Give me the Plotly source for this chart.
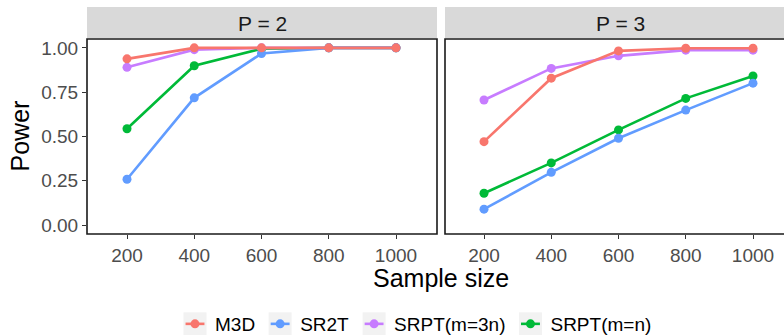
import plotly.graph_objects as go

sizes = [200, 400, 600, 800, 1000]
methods = ["M3D", "SR2T", "SRPT(m=3n)", "SRPT(m=n)"]
colors = ["#F8766D", "#619CFF", "#C77CFF", "#00BA38"]

p2_m3d = [0.938, 1.0, 1.0, 1.0, 1.0]
p2_sr2t = [0.259, 0.718, 0.968, 1.0, 1.0]
p2_srpt3n = [0.890, 0.990, 1.0, 1.0, 1.0]
p2_srptn = [0.544, 0.899, 0.995, 1.0, 1.0]

p3_m3d = [0.471, 0.829, 0.983, 0.998, 0.998]
p3_sr2t = [0.090, 0.298, 0.490, 0.649, 0.801]
p3_srpt3n = [0.706, 0.884, 0.955, 0.987, 0.987]
p3_srptn = [0.180, 0.351, 0.537, 0.715, 0.841]

p2 = [p2_m3d, p2_sr2t, p2_srpt3n, p2_srptn]
p3 = [p3_m3d, p3_sr2t, p3_srpt3n, p3_srptn]

y_ticks = [0.0, 0.25, 0.5, 0.75, 1.0]
y_ticklabels = ["0.00", "0.25", "0.50", "0.75", "1.00"]
facet_labels = ["P = 2", "P = 3"]

W, H = 784, 335
FONT = "Liberation Sans"

fig = go.Figure()
for i in reversed(range(len(methods))):
    m = methods[i]
    fig.add_trace(go.Scatter(x=sizes, y=p2[i], mode="lines+markers", name=m,
                             line=dict(color=colors[i], width=2.6),
                             marker=dict(color=colors[i], size=9),
                             xaxis="x", yaxis="y", legendgroup=m, showlegend=True,
                             legendrank=i + 1))
for i in reversed(range(len(methods))):
    m = methods[i]
    fig.add_trace(go.Scatter(x=sizes, y=p3[i], mode="lines+markers", name=m,
                             line=dict(color=colors[i], width=2.6),
                             marker=dict(color=colors[i], size=9),
                             xaxis="x2", yaxis="y2", legendgroup=m, showlegend=False))

px = lambda v: v / W
py = lambda v: 1 - v / H

d1 = [px(87), px(437)]
d2 = [px(445), 1.0]
ydom = [py(234), py(39)]

x_scale = (396 - 127) / 800
x1_range = [200 - (127 - 87) / x_scale, 1000 + (437 - 396) / x_scale]
x2_range = [200 - (484 - 445) / x_scale, 200 + (784 - 484) / x_scale]

tickfont = dict(family=FONT, size=19, color="#4D4D4D")
common_x = dict(tickvals=sizes, ticks="outside", ticklen=4, tickwidth=1.2,
                tickcolor="#333333", showgrid=False, zeroline=False,
                showline=False, tickfont=tickfont, fixedrange=True, automargin=False)
fig.update_layout(
    width=W, height=H,
    margin=dict(l=0, r=0, t=0, b=0, autoexpand=False),
    paper_bgcolor="white", plot_bgcolor="white",
    xaxis=dict(domain=d1, range=x1_range, anchor="y", **common_x),
    xaxis2=dict(domain=d2, range=x2_range, anchor="y2", **common_x),
    yaxis=dict(domain=ydom, range=[-0.05, 1.05], tickvals=y_ticks, ticktext=y_ticklabels,
               ticks="outside", ticklen=4, tickwidth=1.2, tickcolor="#333333",
               showgrid=False, zeroline=False, showline=False, tickfont=tickfont, anchor="x",
               automargin=False),
    yaxis2=dict(domain=ydom, range=[-0.05, 1.05], tickvals=y_ticks, showticklabels=False,
                ticks="", showgrid=False, zeroline=False, showline=False, anchor="x2",
                matches="y", automargin=False),
    legend=dict(orientation="h", x=px(416), xanchor="center", y=py(324), yanchor="middle",
                font=dict(family=FONT, size=19, color="black"), itemwidth=30,
                traceorder="normal", tracegroupgap=0, bgcolor="rgba(0,0,0,0)"),
    showlegend=True,
)

shapes = []
for (a, b) in [(87, 437), (445, 800)]:
    shapes.append(dict(type="rect", xref="paper", yref="paper", x0=px(a), x1=px(b),
                       y0=py(38), y1=py(7), fillcolor="#D9D9D9", line=dict(width=0), layer="below"))
for (a, b) in [(87, 437), (445, 800)]:
    shapes.append(dict(type="rect", xref="paper", yref="paper", x0=px(a), x1=px(b),
                       y0=ydom[0], y1=ydom[1], fillcolor="rgba(0,0,0,0)",
                       line=dict(color="#1A1A1A", width=1.6), layer="above"))
fig.update_layout(shapes=shapes)

ann = []
for lab, (a, b) in zip(facet_labels, [(87, 437), (445, 795)]):
    ann.append(dict(text=lab, xref="paper", yref="paper", x=px((a + b) / 2), y=py(23),
                    showarrow=False, font=dict(family=FONT, size=21, color="#1A1A1A"),
                    xanchor="center", yanchor="middle"))
ann.append(dict(text="Sample size", xref="paper", yref="paper", x=px(441), y=py(278),
                showarrow=False, font=dict(family=FONT, size=25, color="black"),
                xanchor="center", yanchor="middle"))
ann.append(dict(text="Power", xref="paper", yref="paper", x=px(19), y=py(136.5),
                showarrow=False, textangle=-90, font=dict(family=FONT, size=25, color="black"),
                xanchor="center", yanchor="middle"))
fig.update_layout(annotations=ann)

# ggplot-style legend keys: light grey square behind each key, shorter key line
post = """
document.body.style.margin='0px';
var gd = document.getElementById('{plot_id}');
function addKeys(){
  try {
    gd.querySelectorAll('.legend .traces').forEach(function(t){
      var ll = t.querySelector('.legendlines');
      var lp = t.querySelector('.legendpoints');
      var anchorNode = ll || lp;
      if(!anchorNode || !anchorNode.parentNode) return;
      if(!t.querySelector('.keybg')){
        var r = document.createElementNS('http://www.w3.org/2000/svg','rect');
        r.setAttribute('class','keybg');
        r.setAttribute('x', 8.5); r.setAttribute('y', -11.5);
        r.setAttribute('width', 23); r.setAttribute('height', 23);
        r.setAttribute('fill', '#F2F2F2');
        anchorNode.parentNode.insertBefore(r, anchorNode);
      }
      if(ll){
        ll.setAttribute('transform', 'translate(20,0) scale(0.63,1) translate(-20,0)');
      }
    });
  } catch(e) {}
}
addKeys();
gd.on('plotly_afterplot', addKeys);
"""

fig.write_html("out.html", config={"displayModeBar": False}, post_script=post)
